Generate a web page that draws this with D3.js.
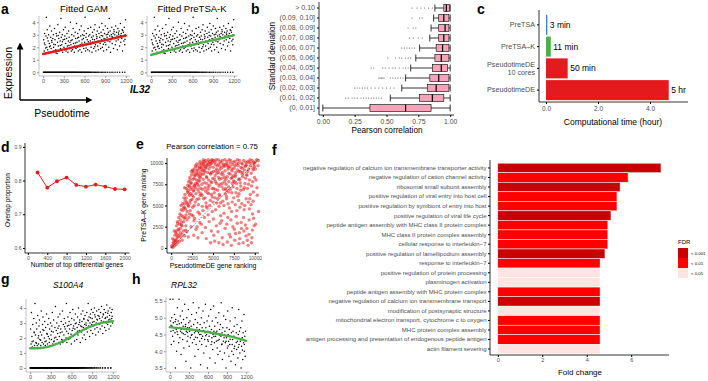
<!DOCTYPE html>
<html>
<head>
<meta charset="utf-8">
<script src="https://cdn.jsdelivr.net/npm/d3@7"></script>
<style>
  body { margin: 0; background: #fff; }
  svg { display: block; font-family: "Liberation Sans", Arial, sans-serif; }
</style>
</head>
<body>
<script>
// ---- data ----

// panel a: IL32 expression vs pseudotime
const il32Pts = [[8,2.6],[15,1.7],[22,3.1],[27,2.2],[34,1.5],[41,2.9],[46,4.4],[53,2.0],[59,3.4],[66,1.8],[72,2.5],[79,3.0],[85,1.6],[90,2.3],[97,3.7],[103,2.1],[110,2.8],[116,1.9],[121,3.3],[128,2.4],[134,1.6],[140,2.7],[147,3.0],[152,2.0],[158,1.7],[165,3.5],[171,2.6],[177,2.2],[184,1.8],[190,3.1],[196,2.9],[203,1.5],[209,2.4],[214,3.8],[221,2.1],[227,2.7],[233,1.7],[240,3.2],[246,2.5],[252,1.9],[258,4.3],[264,2.8],[271,2.2],[277,3.0],[283,1.6],[290,2.6],[296,3.4],[302,2.0],[308,1.8],[315,2.9],[321,3.6],[327,2.3],[333,1.7],[340,2.7],[346,3.1],[352,2.1],[359,1.6],[365,2.5],[371,3.3],[377,2.8],[384,1.9],[390,2.4],[396,4.0],[402,2.2],[409,1.7],[415,3.0],[421,2.6],[427,1.8],[434,3.5],[440,2.3],[446,2.9],[452,1.6],[459,2.1],[465,3.2],[471,2.7],[477,1.9],[484,3.9],[490,2.4],[496,2.0],[502,3.1],[509,1.7],[515,2.8],[521,2.5],[527,3.4],[534,1.8],[540,2.2],[546,2.9],[552,3.7],[559,1.6],[565,2.6],[571,3.0],[577,2.1],[584,2.7],[590,1.9],[596,3.3],[602,2.4],[609,4.4],[615,1.7],[621,2.8],[627,3.1],[634,2.2],[640,2.6],[646,1.8],[652,3.5],[659,2.9],[665,2.3],[671,1.7],[677,3.0],[684,2.5],[690,3.6],[696,2.0],[702,2.8],[709,1.6],[715,3.2],[721,2.4],[727,2.9],[734,1.9],[740,3.4],[746,2.6],[752,3.8],[759,2.2],[765,1.7],[771,3.0],[777,2.7],[784,3.3],[790,2.1],[796,2.5],[802,1.8],[809,3.1],[815,3.6],[821,2.8],[827,2.3],[834,1.9],[840,3.2],[846,2.6],[852,3.9],[859,2.0],[865,2.9],[871,3.4],[877,1.7],[884,2.7],[890,3.1],[896,2.4],[902,3.7],[909,2.2],[915,3.0],[921,1.8],[927,2.8],[934,3.5],[940,2.5],[946,3.2],[952,2.0],[959,4.3],[965,2.9],[971,3.3],[977,1.6],[984,2.6],[990,3.0],[996,3.6],[1002,2.3],[1009,2.8],[1015,3.1],[1021,1.9],[1027,3.4],[1034,2.7],[1040,3.0],[1046,2.2],[1052,3.7],[1059,2.5],[1065,3.2],[1071,2.9],[1077,1.8],[1084,3.5],[1090,2.6],[1096,3.0],[1102,3.3],[1109,2.1],[1115,2.8],[1121,3.9],[1127,2.4],[1134,3.1],[1140,2.7],[1146,3.4],[1152,1.7],[1159,2.9],[1165,3.2],[1171,2.5],[1177,3.6],[1184,2.2],[1190,3.0],[1196,4.2],
[18,2.35],[37,1.95],[61,2.75],[93,2.05],[124,2.55],[155,2.25],[187,1.55],[218,2.95],[249,2.15],[280,2.45],[311,2.65],[343,1.85],[374,2.15],[405,2.55],[437,2.05],[468,2.35],[499,2.75],[530,2.15],[562,2.35],[593,2.95],[624,1.95],[655,2.45],[687,2.25],[718,2.65],[749,2.05],[780,2.85],[812,2.45],[843,2.95],[874,2.25],[905,2.65],[937,3.05],[968,2.45],[999,2.85],[1030,3.25],[1062,2.75],[1093,3.15],[1124,2.95],[1155,3.35],[1187,2.65]];
const il32Zero = [4,11,19,26,34,41,49,57,64,72,80,87,95,103,110,118,126,133,141,149,156,164,172,179,187,195,202,210,218,225,233,241,248,256,264,271,279,287,294,302,310,317,325,333,340,348,356,363,371,379,386,394,402,409,417,425,432,440,448,455,463,471,478,486,494,502,511,520,528,537,546,555,563,572,581,590,599,608,618,627,636,645,655,664,673,685,697,708,722,735,748,762,778,793,808,826,845,866,884,905,930,957,985,1012,1043,1075,1110,1150,1185];
const il32Gam = [[0,1.46],[300,1.83],[600,2.2],[900,2.57],[1200,2.93]];
const il32PreTSA = [[0,1.38],[200,1.68],[400,1.95],[600,2.2],[800,2.45],[1000,2.7],[1200,2.95]];
const geneXTicks = [0,300,600,900,1200];

// panel g: S100A4
const s100Pts = [[6,2.6],[13,1.6],[19,3.7],[26,2.1],[32,1.4],[39,2.9],[45,1.8],[52,3.3],[58,2.4],[64,1.5],[71,4.3],[77,2.2],[84,1.7],[90,3.0],[96,2.6],[103,1.5],[109,3.5],[116,2.0],[122,1.6],[129,2.8],[135,3.2],[141,1.9],[148,2.4],[154,1.5],[161,3.8],[167,2.2],[174,1.7],[180,2.9],[187,3.4],[193,1.6],[199,2.5],[206,2.0],[212,3.1],[219,1.5],[225,2.7],[232,1.8],[238,3.6],[244,2.3],[251,1.6],[257,2.9],[264,2.1],[270,3.3],[277,1.7],[283,2.6],[289,1.5],[296,3.0],[302,2.2],[309,1.9],[315,2.8],[322,3.7],[328,1.6],[334,2.4],[341,3.2],[347,1.8],[354,2.0],[360,2.7],[367,4.1],[373,1.6],[379,2.5],[386,3.0],[392,1.9],[399,2.3],[405,3.4],[412,1.7],[418,2.8],[424,2.1],[431,3.6],[437,1.6],[444,2.6],[450,3.1],[457,1.9],[463,2.4],[469,3.8],[476,1.7],[482,2.9],[489,2.2],[495,3.3],[502,1.8],[508,2.6],[514,3.0],[521,2.0],[527,4.3],[534,1.7],[540,2.8],[547,3.4],[553,2.3],[559,1.9],[566,3.1],[572,2.6],[579,3.7],[585,2.0],[592,2.9],[598,1.6],[604,3.3],[611,2.5],[617,3.9],[624,2.1],[630,2.8],[637,3.2],[643,1.8],[649,2.6],[656,3.6],[662,2.3],[669,3.0],[675,1.9],[682,2.7],[688,3.4],[694,2.2],[701,4.0],[707,2.9],[714,2.5],[720,3.2],[727,1.7],[733,2.8],[739,3.6],[746,2.4],[752,3.1],[759,2.0],[765,3.8],[772,2.7],[778,3.3],[784,2.2],[791,2.9],[797,3.5],[804,1.9],[810,3.0],[817,2.6],[823,3.7],[829,2.4],[836,3.2],[842,4.3],[849,2.8],[855,3.4],[862,2.1],[868,3.0],[874,3.6],[881,2.5],[887,3.9],[894,2.9],[900,3.3],[907,2.3],[913,3.7],[919,2.8],[926,3.1],[932,4.0],[939,2.6],[945,3.4],[952,2.2],[958,3.0],[964,3.8],[971,2.7],[977,3.2],[984,3.5],[990,2.4],[997,3.9],[1003,2.9],[1009,3.3],[1016,2.6],[1022,3.7],[1029,3.0],[1035,4.1],[1042,2.8],[1048,3.4],[1054,2.3],[1061,3.6],[1067,3.1],[1074,3.9],[1080,2.7],[1087,3.3],[1093,3.7],[1099,2.5],[1106,3.0],[1112,4.2],[1119,3.4],[1125,2.9],[1132,3.8],[1138,3.2],[1144,2.6],[1151,3.5],[1157,4.0],[1164,3.1],[1170,2.8],[1177,3.7],[1183,3.3],[1189,3.9],[1196,3.0],
[28,1.75],[59,2.35],[91,1.65],[122,2.15],[153,1.85],[185,2.55],[216,1.75],[248,2.25],[279,1.95],[310,2.45],[342,1.75],[373,2.05],[404,2.65],[436,2.35],[467,1.85],[499,2.75],[530,2.45],[561,2.85],[593,2.25],[624,2.65],[655,2.95],[687,2.45],[718,3.05],[750,2.75],[781,3.25],[812,2.85],[844,3.15],[875,3.35],[906,3.05],[938,3.55],[969,3.25],[1000,3.45],[1032,3.15],[1063,3.55],[1095,3.35],[1126,3.65],[1157,3.25],[1189,3.45]];
const s100Zero = [2,8,14,19,25,31,36,42,48,53,59,65,70,76,82,87,93,99,104,110,116,121,127,133,138,144,150,155,161,167,172,178,184,189,195,201,206,212,218,223,229,235,240,246,252,257,263,269,274,280,286,291,297,303,308,314,320,325,331,337,342,348,354,359,365,371,376,382,388,393,399,405,410,416,422,427,433,439,444,450,456,461,467,473,478,484,490,495,501,507,512,518,524,529,535,541,546,552,558,563,569,575,580,586,592,597,603,609,614,620,626,631,637,643,648,654,660,668,677,686,694,703,712,722,731,741,752,763,775,786,798,812,826,841,857,874,893,912,934,958,985,1015,1050,1088,1130,1170];
const s100Fit = [[0,1.31],[150,1.33],[300,1.46],[450,1.73],[600,2.1],[750,2.5],[900,2.8],[1050,3.02],[1200,3.12]];

// panel h: RPL32
const rplPts = [[5,5.55],[11,4.9],[18,4.6],[24,4.2],[30,5.0],[37,4.75],[43,4.45],[49,5.55],[56,4.85],[62,4.3],[68,4.7],[75,5.1],[81,4.55],[88,3.5],[94,4.95],[100,4.65],[107,4.0],[113,4.8],[119,5.3],[126,4.5],[132,4.9],[139,4.25],[145,5.55],[151,4.7],[158,4.4],[164,5.05],[170,4.6],[177,3.9],[183,4.85],[190,4.55],[196,5.2],[202,4.35],[209,4.75],[215,4.95],[221,4.1],[228,4.65],[234,5.4],[241,4.5],[247,4.8],[253,3.7],[260,4.6],[266,5.0],[272,4.3],[279,4.7],[285,4.45],[292,5.25],[298,4.85],[304,4.15],[311,4.6],[317,4.9],[323,4.4],[330,3.5],[336,4.75],[343,5.1],[349,4.5],[355,4.25],[362,4.65],[368,5.45],[374,4.8],[381,4.35],[387,4.55],[394,3.85],[400,4.95],[406,4.6],[413,4.2],[419,5.15],[425,4.7],[432,4.4],[438,4.85],[445,4.05],[451,4.55],[457,5.3],[464,4.65],[470,4.3],[476,4.8],[483,3.6],[489,4.5],[496,5.0],[502,4.2],[508,4.7],[515,4.45],[521,5.2],[527,4.6],[534,3.95],[540,4.85],[547,4.35],[553,4.55],[559,5.4],[566,4.7],[572,4.15],[578,4.5],[585,4.9],[591,3.5],[598,4.6],[604,4.3],[610,5.05],[617,4.45],[623,4.75],[629,3.8],[636,4.55],[642,5.25],[649,4.2],[655,4.65],[661,4.4],[668,4.9],[674,4.05],[680,4.5],[687,5.35],[693,4.6],[700,4.25],[706,4.75],[712,3.65],[719,4.45],[725,5.0],[731,4.3],[738,4.6],[744,4.1],[751,4.85],[757,3.9],[763,4.5],[770,5.15],[776,4.35],[782,4.65],[789,4.0],[795,4.8],[802,4.45],[808,5.45],[814,4.2],[821,4.55],[827,3.75],[833,4.7],[840,4.3],[846,5.05],[853,4.5],[859,3.95],[865,4.6],[872,4.25],[878,4.95],[884,3.5],[891,4.4],[897,4.7],[904,4.1],[910,5.2],[916,4.5],[923,4.3],[929,3.85],[935,4.65],[942,4.2],[948,4.9],[955,4.45],[961,3.7],[967,4.55],[974,4.0],[980,5.3],[986,4.35],[993,4.6],[999,3.9],[1006,4.45],[1012,4.75],[1018,4.15],[1025,5.0],[1031,3.6],[1037,4.4],[1044,4.55],[1050,4.05],[1057,4.8],[1063,4.3],[1069,3.8],[1076,4.5],[1082,5.25],[1088,4.2],[1095,4.6],[1101,3.95],[1108,4.35],[1114,4.7],[1120,3.5],[1127,4.15],[1133,4.9],[1139,4.4],[1146,3.75],[1152,4.55],[1159,4.25],[1165,5.1],[1171,4.0],[1178,4.45],[1184,3.85],[1190,4.6],[1197,4.3],
[20,4.78],[52,4.62],[84,4.88],[116,4.58],[148,4.82],[180,4.66],[212,4.52],[244,4.74],[276,4.56],[308,4.7],[340,4.48],[372,4.64],[404,4.42],[436,4.6],[468,4.5],[500,4.38],[532,4.62],[564,4.46],[596,4.34],[628,4.58],[660,4.28],[692,4.44],[724,4.56],[756,4.32],[788,4.48],[820,4.22],[852,4.4],[884,4.3],[916,4.16],[948,4.36],[980,4.2],[1012,4.08],[1044,4.26],[1076,4.12],[1108,4.3],[1140,4.04],[1172,4.2]];
const rplFit = [[0,4.72],[200,4.68],[400,4.63],[600,4.57],[800,4.5],[1000,4.42],[1100,4.37],[1200,4.31]];

// panel b: Pearson correlation by SD bin
const sdBins = ["> 0.10","(0.09, 0.10]","(0.08, 0.09]","(0.07, 0.08]","(0.06, 0.07]","(0.05, 0.06]","(0.04, 0.05]","(0.03, 0.04]","(0.02, 0.03]","(0.01, 0.02]","(0, 0.01]"];
const bLow = [0.88,0.87,0.85,0.84,0.76,0.73,0.69,0.65,0.62,0.53,0.0];
const bQ1 = [0.95,0.91,0.91,0.91,0.89,0.88,0.86,0.84,0.82,0.76,0.37];
const bMed = [0.97,0.95,0.96,0.95,0.94,0.93,0.93,0.91,0.89,0.86,0.65];
const bQ3 = [0.995,0.99,0.99,0.99,0.99,0.99,0.98,0.99,0.99,0.95,0.85];
const bHigh = [1,1,1,1,1,1,1,1,1,1,1];
const bOut = [
  [0.70,0.74,0.77,0.80,0.83,0.86],
  [0.70,0.76,0.78],
  [0.67,0.71,0.73],
  [0.68,0.71,0.75,0.78],
  [0.62,0.64,0.66,0.68,0.70,0.72],
  [0.51,0.57,0.60,0.62,0.65,0.67,0.69],
  [0.38,0.40,0.47,0.49,0.52,0.55,0.57,0.60,0.63,0.65,0.67],
  [0.44,0.45,0.46,0.47,0.48,0.53,0.55,0.57,0.59,0.61,0.63],
  [0.25,0.27,0.29,0.31,0.33,0.35,0.38,0.41,0.44,0.47,0.50,0.53,0.56],
  [0.18,0.20,0.23,0.25,0.27,0.30,0.32,0.34,0.36,0.38,0.40,0.42,0.44,0.46],
  []
];

// panel c: computational time
const methods = ["PreTSA","PreTSA\u2013K","PseudotimeDE|10 cores","PseudotimeDE"];
const hours = [0.05,0.183,0.833,4.72];
const timeLabels = ["3 min","11 min","50 min","5 hr"];
const methodColors = ["#3A7DC0","#4DAF4A","#E41A1C","#E41A1C"];

// panel d: overlap proportion
const topGenes = [200,400,600,800,1000,1200,1400,1600,1800,2000];
const overlap = [0.824,0.779,0.798,0.809,0.787,0.782,0.788,0.782,0.775,0.774];

// panel e: gene ranking (PseudotimeDE, PreTSA-K)
const rankPts = [[50,120],[120,300],[200,80],[260,650],[330,900],[400,250],[450,1500],[180,1100],[350,2000],[480,700],
[550,1800],[600,400],[650,2600],[700,1200],[750,3100],[800,600],[850,2200],[900,3600],[950,1500],[620,900],[780,2900],[980,800],
[1050,4000],[1100,2300],[1150,1300],[1200,4500],[1250,3000],[1300,900],[1350,5200],[1400,3700],[1450,2000],[1080,3300],[1180,5000],[1320,1600],[1480,4700],[1220,2700],
[1520,5900],[1560,3500],[1600,1400],[1650,6300],[1700,4600],[1750,2600],[1800,7000],[1850,5400],[1900,3300],[1950,6600],[1580,4800],[1680,5600],[1780,3900],[1880,1900],[1980,7400],[1620,7100],[1720,2100],
[2020,5000],[2080,7800],[2120,3600],[2180,6200],[2230,8300],[2280,4400],[2330,6900],[2380,2500],[2430,8600],[2480,5700],[2050,1300],[2150,7300],[2250,5300],[2350,7600],[2450,3900],[2100,6500],[2400,9000],[2200,4000],
[2520,7100],[2570,4800],[2620,8900],[2670,6000],[2720,3200],[2770,8200],[2820,9400],[2870,5400],[2920,7600],[2970,2200],[2550,9200],[2650,6700],[2750,5000],[2850,8600],[2950,6400],[2600,3800],[2800,7300],[2900,9700],[2700,1500],
[3020,8000],[3070,5700],[3120,9600],[3170,6900],[3220,4200],[3270,8800],[3320,7300],[3370,9900],[3420,3000],[3470,6200],[3050,9100],[3150,7700],[3250,5100],[3350,8400],[3450,9500],[3100,2500],[3300,6600],[3400,7900],[3200,1200],
[3520,8600],[3570,6400],[3620,10000],[3670,7500],[3720,4900],[3770,9200],[3820,8100],[3870,5800],[3920,9800],[3970,3600],[3550,7000],[3650,9400],[3750,6900],[3850,10200],[3950,7700],[3600,2800],[3800,4400],[3900,8700],[3700,1800],
[4020,9000],[4070,7100],[4120,10300],[4170,5300],[4220,8400],[4270,9700],[4320,6500],[4370,10100],[4420,3900],[4470,8000],[4050,5900],[4150,9500],[4250,7600],[4350,8900],[4450,10400],[4100,2400],[4300,4700],[4400,6900],[4200,1100],
[4520,9300],[4570,7400],[4620,10200],[4670,5600],[4720,8700],[4770,9900],[4820,6300],[4870,10400],[4920,4300],[4970,8200],[4550,3100],[4650,9600],[4750,7800],[4850,8900],[4950,10100],[4600,5000],[4800,2000],[4900,7000],[4700,600],
[5020,9500],[5070,7000],[5120,10300],[5170,8100],[5220,5900],[5270,9800],[5320,4500],[5370,10400],[5420,7600],[5470,8800],[5050,3400],[5150,6500],[5250,10100],[5350,9100],[5450,5300],[5100,1500],[5300,7800],[5400,2600],[5200,800],
[5520,9700],[5570,6800],[5620,10400],[5670,8300],[5720,4900],[5770,9200],[5820,7500],[5870,10200],[5920,3800],[5970,8700],[5550,5800],[5650,9900],[5750,6300],[5850,2900],[5950,10000],[5600,1900],[5800,8100],[5900,5300],[5700,600],
[6020,9400],[6070,7200],[6120,10300],[6170,5500],[6220,8600],[6270,9900],[6320,4100],[6370,7800],[6420,10400],[6470,6400],[6050,3200],[6150,8900],[6250,6900],[6350,9600],[6450,2300],[6100,1200],[6300,5000],[6400,8300],[6200,400],
[6520,9800],[6570,7500],[6620,5800],[6670,10200],[6720,8400],[6770,3600],[6820,9300],[6870,6600],[6920,10400],[6970,4700],[6550,8100],[6650,2800],[6750,9700],[6850,7200],[6950,1600],[6600,6100],[6800,5200],[6900,8800],[6700,700],
[7020,9600],[7070,6900],[7120,10300],[7170,8200],[7220,4300],[7270,9100],[7320,7600],[7370,2500],[7420,10100],[7470,5900],[7050,8700],[7150,3300],[7250,6500],[7350,9800],[7450,7900],[7100,1300],[7300,5400],[7400,8500],[7200,300],
[7520,9400],[7570,7800],[7620,10200],[7670,5100],[7720,8900],[7770,3700],[7820,9900],[7870,7000],[7920,10400],[7970,6100],[7550,2200],[7650,8400],[7750,6500],[7850,4400],[7950,9200],[7600,900],[7800,7600],[7900,2900],[7700,1700],
[8020,9700],[8070,8100],[8120,6400],[8170,10300],[8220,4800],[8270,9000],[8320,7300],[8370,3000],[8420,10000],[8470,8700],[8050,5600],[8150,1800],[8250,7700],[8350,9500],[8450,5200],[8100,500],[8300,6800],[8400,2300],[8200,1100],
[8520,9900],[8570,8400],[8620,6900],[8670,10300],[8720,4500],[8770,9200],[8820,7600],[8870,2700],[8920,10100],[8970,5800],[8550,8900],[8650,3600],[8750,7100],[8850,9600],[8950,1400],[8600,600],[8800,5000],[8900,8200],[8700,2000],
[9020,9800],[9070,8600],[9120,7000],[9170,10200],[9220,5400],[9270,9300],[9320,3300],[9370,8000],[9420,10400],[9470,6300],[9050,2300],[9150,9000],[9250,7500],[9350,4600],[9450,9700],[9100,900],[9300,1600],[9400,5800],[9200,300],
[9520,10000],[9570,8800],[9620,7300],[9670,10300],[9720,4000],[9770,9400],[9820,6600],[9870,10100],[9920,2600],[9970,8300],[9550,5100],[9650,1200],[9750,7800],[9850,3500],[9950,9600],[9600,600],[9800,5500],[9900,9900],[9700,2100],
[10020,10100],[10080,9300],[10150,8000],[10220,10400],[10300,6200],[10380,9700],[10450,4300],[10100,2800],[10250,7100],[10400,10300],
[1200,3800],[1400,4400],[1600,5200],[1800,5900],[2000,6800],[2200,7200],[2400,7700],[2600,8100],[2800,8500],[3000,8800],[3200,9200],[3400,9400],[3600,9700],[3800,9900],[4000,10100],[1300,2600],[1500,3100],[1700,3600],[1900,4300],[2100,4900],[2300,5600],[2500,6200],[2700,6800],[2900,7100],[3100,7500],[3300,8000],[3500,8300],[3700,8700],[3900,9100],[4100,9400],[4300,9800],[4500,9900],[4700,10000],[4900,10300],[2250,8000],[2650,9100],[3050,9900],[3450,10200],[3850,10400],[1950,5200],[2350,6400],[2750,7400],[3150,8600],[3550,9000],[3950,9600],[4250,8300],[4650,8800],[5050,9000],[5450,9300],[5850,9600],[6250,9700],[6650,9900],[7050,10000],[4450,7200],[4850,7700],[5250,8500],[5650,8900],[6050,8200],[6450,9100],[6850,9500],[7250,9300],[7650,9700],[8050,10000],[3300,5800],[3700,6200],[4100,6700],[4500,6400],[4900,6000],[5300,6900],[5700,7300],[6100,7600],[6500,7000],[6900,7800],[7300,8300],[7700,8600],[8100,9000],[8500,9400],[8900,9700],[9300,10100],[500,900],[700,1600],[900,2100],[1100,1800],[300,500],[800,1300],[1000,2800],[600,2000],[2800,3500],[3400,4000],[4200,4900],[5000,5400],[5800,6100],[6600,6800],[7400,7200],[8200,8100],[9000,8600],[9800,9200]];
const rankTicks = [0,2500,5000,7500,10000];

// panel f: GO terms
const goTerms = ["negative regulation of calcium ion transmembrane transporter activity","negative regulation of cation channel activity","ribosomal small subunit assembly","positive regulation of viral entry into host cell","positive regulation by symbiont of entry into host","positive regulation of viral life cycle","peptide antigen assembly with MHC class II protein complex","MHC class II protein complex assembly","cellular response to interleukin\u22127","positive regulation of lamellipodium assembly","response to interleukin\u22127","positive regulation of protein processing","plasminogen activation","peptide antigen assembly with MHC protein complex","negative regulation of calcium ion transmembrane transport","modification of postsynaptic structure","mitochondrial electron transport, cytochrome c to oxygen","MHC protein complex assembly","antigen processing and presentation of endogenous peptide antigen","actin filament severing"];
const foldChange = [7.34,5.86,5.5,5.36,5.36,5.09,4.95,4.95,4.95,4.82,4.6,4.6,4.6,4.6,4.6,4.6,4.6,4.6,4.6,4.6];
const fdrClass = ["< 0.001","< 0.01","< 0.001","< 0.01","< 0.01","< 0.001","< 0.01","< 0.01","< 0.01","< 0.001","< 0.01","< 0.05","< 0.05","< 0.01","< 0.001","< 0.05","< 0.01","< 0.01","< 0.01","< 0.05"];
const fdrLevels = ["< 0.001","< 0.01","< 0.05"];
const fdrColors = ["#C80000","#FF0000","#FFE4E1"];

// ---- drawing ----
const FONT = '"Liberation Sans", Arial, sans-serif';
const svg = d3.select('body').append('svg').attr('width', 708).attr('height', 381);
svg.append('rect').attr('width', 708).attr('height', 381).attr('fill', '#fff');

function txt(x, y, s, size, opt) {
  opt = opt || {};
  const t = svg.append('text').attr('x', x).attr('y', y).text(s)
    .attr('font-size', size).attr('fill', opt.fill || '#000')
    .attr('text-anchor', opt.anchor || 'start')
    .attr('font-weight', opt.weight || 'normal')
    .attr('font-style', opt.style || 'normal');
  if (opt.rotate) t.attr('transform', `rotate(-90,${x},${y})`);
  return t;
}

function styleAxis(g, size, col) {
  g.attr('font-size', size).attr('font-family', FONT);
  g.select('.domain').remove();
  g.selectAll('.tick line').attr('stroke', col);
  g.selectAll('.tick text').attr('fill', '#4d4d4d');
}

function frame(x0, x1, y0, y1, col, w) {
  svg.append('path').attr('d', `M${x0},${y0}V${y1}H${x1}`)
    .attr('fill', 'none').attr('stroke', col).attr('stroke-width', w || 1);
}

// gene scatter panels (a, g, h)
function genePanel(o) {
  const x = d3.scaleLinear().domain([-60, 1260]).range(o.xr);
  const y = d3.scaleLinear().domain(o.yd).range(o.yr);
  const g = svg.append('g');
  g.selectAll(null).data(o.pts).join('circle')
    .attr('cx', d => x(d[0])).attr('cy', d => y(d[1])).attr('r', 0.75).attr('fill', '#000');
  if (o.zeros) {
    g.selectAll(null).data(o.zeros).join('circle')
      .attr('cx', d => x(d)).attr('cy', y(0)).attr('r', o.zr || 0.75).attr('fill', '#000');
  }
  g.append('path').datum(o.fit)
    .attr('d', d3.line().curve(d3.curveMonotoneX).x(d => x(d[0])).y(d => y(d[1])))
    .attr('fill', 'none').attr('stroke', o.col).attr('stroke-width', 2.4).attr('stroke-linecap', 'round');
  const col = '#9a9a9a';
  frame(o.xr[0], o.xr[1], o.yr[1], o.yr[0], col, 0.6);
  svg.append('g').attr('transform', `translate(${o.xr[0]},0)`)
    .call(d3.axisLeft(y).tickValues(o.yt).tickSize(2).tickPadding(1.5).tickFormat(o.fmt))
    .call(g2 => styleAxis(g2, 5.5, col));
  svg.append('g').attr('transform', `translate(0,${o.yr[0]})`)
    .call(d3.axisBottom(x).tickValues(geneXTicks).tickFormat(d3.format('d')).tickSize(2).tickPadding(1.5))
    .call(g2 => styleAxis(g2, 5.5, col));
}

// ---------- panel a ----------
txt(1, 14, 'a', 14, {weight: 'bold'});
txt(84, 12, 'Fitted GAM', 9.5, {anchor: 'middle'});
txt(192, 12, 'Fitted PreTSA-K', 9.5, {anchor: 'middle'});
genePanel({xr: [39, 130], yr: [76, 16], yd: [-0.3, 4.5], yt: [0,1,2,3,4], fmt: d3.format('d'),
  pts: il32Pts, zeros: il32Zero, fit: il32Gam, col: '#E41A1C'});
genePanel({xr: [147, 238], yr: [76, 16], yd: [-0.3, 4.5], yt: [0,1,2,3,4], fmt: d3.format('d'),
  pts: il32Pts, zeros: il32Zero, fit: il32PreTSA, col: '#4DAF4A'});

svg.append('defs').append('marker').attr('id', 'arr').attr('viewBox', '0 0 10 10')
  .attr('refX', 5).attr('refY', 5).attr('markerWidth', 5).attr('markerHeight', 5).attr('orient', 'auto')
  .append('path').attr('d', 'M0,0L10,5L0,10z').attr('fill', '#000');
svg.append('path').attr('d', 'M20,100V46').attr('stroke', '#000').attr('stroke-width', 1.4).attr('marker-end', 'url(#arr)');
svg.append('path').attr('d', 'M20,100H89').attr('stroke', '#000').attr('stroke-width', 1.4).attr('marker-end', 'url(#arr)');
txt(12, 73, 'Expression', 10.5, {anchor: 'middle', rotate: true});
txt(62, 117, 'Pseudotime', 10.5, {anchor: 'middle'});
txt(130, 93, 'IL32', 10, {weight: 'bold', style: 'italic'});

// ---------- panel b ----------
txt(251, 14, 'b', 14, {weight: 'bold'});
{
  const x = d3.scaleLinear().domain([-0.03, 1.03]).range([319, 454]);
  const y = d3.scaleBand().domain(sdBins).range([3, 113]);
  const bh = 7;
  const g = svg.append('g');
  sdBins.forEach((b, i) => {
    const cy = y(b) + y.bandwidth() / 2;
    g.selectAll(null).data(bOut[i]).join('circle')
      .attr('cx', d => x(d)).attr('cy', cy).attr('r', 0.6).attr('fill', '#555');
    g.append('line').attr('x1', x(bLow[i])).attr('x2', x(bQ1[i])).attr('y1', cy).attr('y2', cy).attr('stroke', '#000').attr('stroke-width', 0.8);
    g.append('line').attr('x1', x(bQ3[i])).attr('x2', x(bHigh[i])).attr('y1', cy).attr('y2', cy).attr('stroke', '#000').attr('stroke-width', 0.8);
    [bLow[i], bHigh[i]].forEach(v => g.append('line').attr('x1', x(v)).attr('x2', x(v))
      .attr('y1', cy - bh / 2).attr('y2', cy + bh / 2).attr('stroke', '#000').attr('stroke-width', 0.8));
    g.append('rect').attr('x', x(bQ1[i])).attr('width', x(bQ3[i]) - x(bQ1[i]))
      .attr('y', cy - bh / 2).attr('height', bh).attr('fill', '#F7A3BA').attr('stroke', '#000').attr('stroke-width', 0.6);
    g.append('line').attr('x1', x(bMed[i])).attr('x2', x(bMed[i])).attr('y1', cy - bh / 2).attr('y2', cy + bh / 2)
      .attr('stroke', '#000').attr('stroke-width', 1.2);
  });
  frame(319, 454, 2, 115, '#000', 0.8);
  svg.append('g').attr('transform', 'translate(319,0)')
    .call(d3.axisLeft(y).tickSize(2).tickPadding(2))
    .call(g2 => styleAxis(g2, 7, '#000'));
  svg.append('g').attr('transform', 'translate(0,115)')
    .call(d3.axisBottom(x).tickValues([0, 0.25, 0.5, 0.75, 1]).tickFormat(d3.format('.2f')).tickSize(2).tickPadding(2))
    .call(g2 => styleAxis(g2, 6.8, '#000'));
  txt(387, 133, 'Pearson correlation', 8.2, {anchor: 'middle'});
  txt(275, 56, 'Standard deviation', 8.2, {anchor: 'middle', rotate: true});
}

// ---------- panel c ----------
txt(477, 14, 'c', 14, {weight: 'bold'});
{
  const x = d3.scaleLinear().domain([-0.27, 5.5]).range([539, 689]);
  const y = d3.scaleBand().domain(methods).range([14, 101]).paddingInner(0.08).paddingOuter(0.04);
  svg.append('g').selectAll(null).data(methods).join('rect')
    .attr('x', x(0)).attr('y', d => y(d)).attr('height', y.bandwidth())
    .attr('width', (d, i) => Math.max(1.3, x(hours[i]) - x(0)))
    .attr('fill', (d, i) => methodColors[i]);
  svg.append('g').selectAll(null).data(methods).join('text')
    .attr('x', (d, i) => x(hours[i]) + 2.5).attr('y', d => y(d) + y.bandwidth() / 2 + 3)
    .attr('font-size', 8.5).text((d, i) => timeLabels[i]);
  frame(539, 688, 10, 102, '#000', 0.8);
  const ya = svg.append('g').attr('transform', 'translate(539,0)')
    .call(d3.axisLeft(y).tickSize(2).tickPadding(2))
    .call(g2 => styleAxis(g2, 7.2, '#000'));
  ya.selectAll('.tick text').each(function(d) {
    const parts = d.split('|');
    const t = d3.select(this).text(null);
    parts.forEach((p, k) => t.append('tspan').attr('x', -4)
      .attr('dy', k === 0 ? (parts.length > 1 ? '-0.25em' : '0.32em') : '1.1em').text(p));
  });
  svg.append('g').attr('transform', 'translate(0,102)')
    .call(d3.axisBottom(x).tickValues([0, 2, 4]).tickSize(2).tickPadding(2))
    .call(g2 => styleAxis(g2, 6.5, '#000'));
  txt(613, 125, 'Computational time (hour)', 8.5, {anchor: 'middle'});
}

// ---------- panel d ----------
txt(1, 152, 'd', 14, {weight: 'bold'});
{
  const x = d3.scaleLinear().domain([-60, 2100]).range([25, 129.5]);
  const y = d3.scaleLinear().domain([0.585, 0.91]).range([253, 143.5]);
  svg.append('path').datum(topGenes)
    .attr('d', d3.line().x(d => x(d)).y((d, i) => y(overlap[i])))
    .attr('fill', 'none').attr('stroke', '#E41A1C').attr('stroke-width', 1);
  svg.append('g').selectAll(null).data(topGenes).join('circle')
    .attr('cx', d => x(d)).attr('cy', (d, i) => y(overlap[i])).attr('r', 1.9).attr('fill', '#E41A1C');
  frame(25, 129.5, 143, 253, '#000', 0.8);
  svg.append('g').attr('transform', 'translate(25,0)')
    .call(d3.axisLeft(y).tickValues([0.6, 0.7, 0.8, 0.9]).tickFormat(d3.format('.1f')).tickSize(2).tickPadding(1.5))
    .call(g2 => styleAxis(g2, 5, '#000'));
  svg.append('g').attr('transform', 'translate(0,253)')
    .call(d3.axisBottom(x).tickValues([0,400,800,1200,1600,2000]).tickFormat(d3.format('d')).tickSize(2).tickPadding(1.5))
    .call(g2 => styleAxis(g2, 5, '#000'));
  txt(77, 267, 'Number of top differential genes', 6.5, {anchor: 'middle'});
  txt(10, 200, 'Overlap proportion', 6.5, {anchor: 'middle', rotate: true});
}

// ---------- panel e ----------
txt(136, 149, 'e', 14, {weight: 'bold'});
{
  const x = d3.scaleLinear().domain([-500, 10500]).range([167, 259]);
  const y = d3.scaleLinear().domain([-600, 10600]).range([253, 158]);
  svg.append('g').selectAll(null).data(rankPts).join('circle')
    .attr('cx', d => x(d[0])).attr('cy', d => y(d[1])).attr('r', 1.7)
    .attr('fill', '#E41A1C').attr('fill-opacity', 0.55);
  svg.append('line').attr('x1', x(0)).attr('y1', y(0)).attr('x2', x(10500)).attr('y2', y(10500))
    .attr('stroke', '#333').attr('stroke-width', 0.7).attr('stroke-dasharray', '1.5,1.5');
  frame(167, 259, 158, 253, '#000', 0.8);
  svg.append('g').attr('transform', 'translate(167,0)')
    .call(d3.axisLeft(y).tickValues(rankTicks).tickFormat(d3.format('d')).tickSize(2).tickPadding(1.5))
    .call(g2 => styleAxis(g2, 4.8, '#000'));
  svg.append('g').attr('transform', 'translate(0,253)')
    .call(d3.axisBottom(x).tickValues(rankTicks).tickFormat(d3.format('d')).tickSize(2).tickPadding(1.5))
    .call(g2 => styleAxis(g2, 4.8, '#000'));
  txt(212, 149, 'Pearson correlation = 0.75', 7.8, {anchor: 'middle'});
  txt(213, 268, 'PseudotimeDE gene ranking', 6.8, {anchor: 'middle'});
  txt(146, 205, 'PreTSA\u2013K gene ranking', 6.8, {anchor: 'middle', rotate: true});
}

// ---------- panel f ----------
txt(272, 155, 'f', 14, {weight: 'bold'});
{
  const x = d3.scaleLinear().domain([-0.35, 7.7]).range([490, 669]);
  const y = d3.scaleBand().domain(goTerms).range([163.2, 353.8]);
  const colOf = d3.scaleOrdinal().domain(fdrLevels).range(fdrColors);
  svg.append('g').selectAll(null).data(goTerms).join('rect')
    .attr('x', x(0)).attr('y', d => y(d)).attr('height', y.bandwidth())
    .attr('width', (d, i) => x(foldChange[i]) - x(0))
    .attr('fill', (d, i) => colOf(fdrClass[i])).attr('stroke', '#fff').attr('stroke-width', 0.5);
  frame(490, 669, 160, 355, '#000', 0.8);
  svg.append('g').attr('transform', 'translate(490,0)')
    .call(d3.axisLeft(y).tickSize(2).tickPadding(1.5))
    .call(g2 => styleAxis(g2, 6, '#000'));
  svg.append('g').attr('transform', 'translate(0,355)')
    .call(d3.axisBottom(x).tickValues([0, 2, 4, 6]).tickSize(2).tickPadding(1.5))
    .call(g2 => styleAxis(g2, 5.5, '#000'));
  txt(580, 375, 'Fold change', 8, {anchor: 'middle'});
  // legend
  txt(678, 244, 'FDR', 6, {});
  const lg = svg.append('g');
  lg.selectAll(null).data(fdrLevels).join('rect')
    .attr('x', 678).attr('y', (d, i) => 248 + i * 10).attr('width', 10).attr('height', 10)
    .attr('fill', d => colOf(d));
  lg.selectAll(null).data(fdrLevels).join('text')
    .attr('x', 691).attr('y', (d, i) => 254.5 + i * 10).attr('font-size', 4.3).text(d => d);
}

// ---------- panels g, h ----------
txt(1, 284, 'g', 14, {weight: 'bold'});
txt(68, 288, 'S100A4', 8.5, {anchor: 'middle', style: 'italic'});
genePanel({xr: [26, 117], yr: [372, 299], yd: [-0.27, 4.6], yt: [0,1,2,3,4], fmt: d3.format('d'),
  pts: s100Pts, zeros: s100Zero, zr: 0.9, fit: s100Fit, col: '#4DAF4A'});

txt(132, 284, 'h', 14, {weight: 'bold'});
txt(184, 288, 'RPL32', 8.5, {anchor: 'middle', style: 'italic'});
genePanel({xr: [166, 250], yr: [372, 297], yd: [3.38, 5.62], yt: [3.5,4,4.5,5,5.5], fmt: d3.format('.1f'),
  pts: rplPts, fit: rplFit, col: '#4DAF4A'});
</script>
</body>
</html>
